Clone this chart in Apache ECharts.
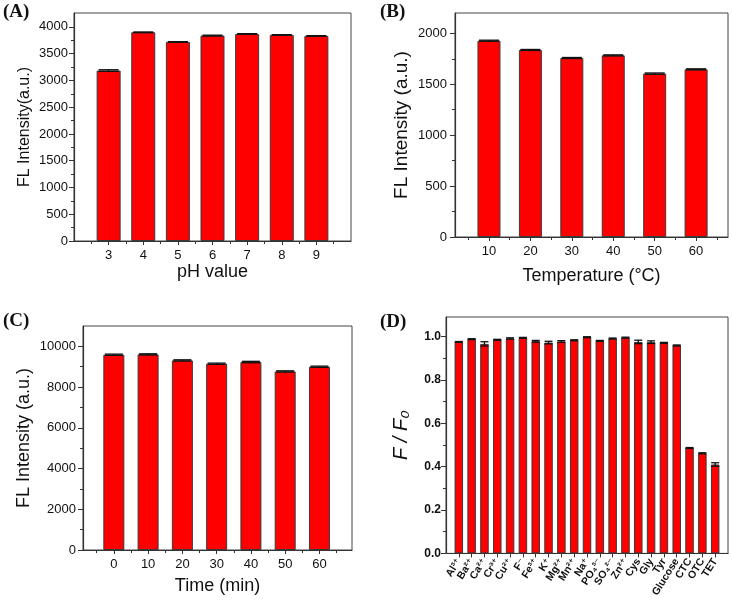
<!DOCTYPE html>
<html>
<head>
<meta charset="utf-8">
<script src="https://cdn.jsdelivr.net/npm/echarts@6/dist/echarts.min.js"></script>
<style>html,body{margin:0;padding:0;background:#fff}#c{width:732px;height:600px}</style>
</head>
<body>
<div id="c"></div>
<script>
// ---- data ----
const phCats = [3, 4, 5, 6, 7, 8, 9];
const phVals = [3185, 3900, 3720, 3838, 3869, 3851, 3832];
const phErr = [15, 5, 5, 8, 5, 5, 5];
const phYTicks = [0, 500, 1000, 1500, 2000, 2500, 3000, 3500, 4000];

const tempCats = [10, 20, 30, 40, 50, 60];
const tempVals = [1928, 1837, 1758, 1784, 1605, 1647];
const tempErr = [5, 5, 5, 5, 6, 5];
const tempYTicks = [0, 500, 1000, 1500, 2000];

const timeCats = [0, 10, 20, 30, 40, 50, 60];
const timeVals = [9590, 9607, 9311, 9148, 9230, 8770, 9000];
const timeErr = [30, 30, 30, 30, 35, 30, 30];
const timeYTicks = [0, 2000, 4000, 6000, 8000, 10000];

const ionLabels = ['Al³⁺', 'Ba²⁺', 'Ca²⁺', 'Cr³⁺', 'Cu²⁺', 'F⁻', 'Fe³⁺', 'K⁺', 'Mg²⁺', 'Mn²⁺', 'Na⁺', 'PO₄³⁻', 'SO₄²⁻', 'Zn²⁺', 'Cys', 'Gly', 'Tyr', 'Glucose', 'CTC', 'OTC', 'TET'];
const ionVals = [0.975, 0.988, 0.966, 0.985, 0.991, 0.994, 0.978, 0.972, 0.977, 0.983, 0.997, 0.980, 0.991, 0.995, 0.975, 0.974, 0.971, 0.959, 0.486, 0.462, 0.410];
const ionErr = [0.002, 0.002, 0.010, 0.002, 0.003, 0.002, 0.004, 0.006, 0.004, 0.002, 0.002, 0.002, 0.002, 0.002, 0.008, 0.006, 0.002, 0.002, 0.002, 0.002, 0.008];
const ionYTicks = [0, 0.2, 0.4, 0.6, 0.8, 1.0];

// ---- helpers ----
const FONT = '"Liberation Sans", Arial, "DejaVu Sans", sans-serif';
const AX = '#333';
function halves(arr) {
  const out = [];
  for (let i = 0; i < arr.length - 1; i++) out.push((arr[i] + arr[i + 1]) / 2);
  return out;
}
function withEnds(arr, step) { return [arr[0] - step / 2].concat(halves(arr), [arr[arr.length - 1] + step / 2]); }

const ionPos = ionLabels.map((_, i) => i + 1);

const panels = [
  { grid: { left: 74, top: 13, right: 381, bottom: 359 }, xmin: 2, xmax: 10, xs: phCats, xminor: withEnds(phCats, 1),
    ymax: 4260, yticks: phYTicks, yminor: halves(phYTicks), vals: phVals, err: phErr, barW: 24, cap: 10,
    yname: 'FL Intensity(a.u.)', ynameFs: 16, ynameGap: 41, xname: 'pH value', xnameFs: 18, xnameGap: 22,
    fmtY: v => String(v), fmtX: v => String(v), fs: 13, bold: false, ylm: 6 },
  { grid: { left: 455, top: 13, right: 4, bottom: 363 }, xmin: 1.8, xmax: 67.7, xs: tempCats, xminor: withEnds(tempCats, 10),
    ymax: 2200, yticks: tempYTicks, yminor: halves(tempYTicks), vals: tempVals, err: tempErr, barW: 23, cap: 10,
    yname: 'FL Intensity (a.u.)', ynameFs: 19, ynameGap: 44, xname: 'Temperature (°C)', xnameFs: 18, xnameGap: 30,
    fmtY: v => String(v), fmtX: v => String(v), fs: 13, bold: false, ylm: 8 },
  { grid: { left: 83, top: 326, right: 380, bottom: 50 }, xmin: -9, xmax: 69.5, xs: timeCats, xminor: withEnds(timeCats, 10),
    ymax: 11000, yticks: timeYTicks, yminor: halves(timeYTicks), vals: timeVals, err: timeErr, barW: 21, cap: 9,
    yname: 'FL Intensity (a.u.)', ynameFs: 18, ynameGap: 50, xname: 'Time (min)', xnameFs: 18, xnameGap: 27,
    fmtY: v => String(v), fmtX: v => String(v), fs: 13, bold: false, ylm: 7 },
  { grid: { left: 446, top: 317, right: 4, bottom: 46 }, xmin: 0, xmax: 22, xs: ionPos, xminor: [],
    ymax: 1.09, yticks: ionYTicks, yminor: halves(ionYTicks), vals: ionVals, err: ionErr, barW: 8.5, cap: 4,
    yname: 'F / F₀', ynameFs: 20, ynameGap: 35, xname: '', xnameFs: 12, xnameGap: 20,
    fmtY: v => v.toFixed(1), fmtX: v => ionLabels[Math.round(v) - 1] || '', fs: 12, bold: true, ylm: 5, rotate: 58, xfs: 10.5 }
];

const grids = [], xAxes = [], yAxes = [], series = [];
panels.forEach((p, gi) => {
  grids.push(Object.assign({ show: true, borderColor: '#444', borderWidth: 1, backgroundColor: 'transparent' }, p.grid));
  const xMainIdx = xAxes.length;
  xAxes.push({
    type: 'value', gridIndex: gi, min: p.xmin, max: p.xmax, position: 'bottom',
    splitLine: { show: false },
    axisLine: { show: true, onZero: false, lineStyle: { color: AX, width: 1.2 } },
    axisTick: { show: true, inside: false, length: 4, customValues: p.xs, lineStyle: { color: AX } },
    axisLabel: { show: true, customValues: p.xs, formatter: p.fmtX, margin: gi === 3 ? 6 : 8,
      rotate: p.rotate || 0, color: '#111', fontFamily: FONT, fontSize: p.xfs || p.fs,
      fontWeight: p.bold ? 'bold' : 'normal' },
    name: p.xname, nameLocation: 'middle', nameGap: p.xnameGap,
    nameTextStyle: { fontFamily: FONT, fontSize: p.xnameFs, color: '#111' }
  });
  if (p.xminor.length) {
    xAxes.push({
      type: 'value', gridIndex: gi, min: p.xmin, max: p.xmax, position: 'bottom',
      splitLine: { show: false }, axisLine: { show: false, onZero: false },
      axisTick: { show: true, length: 3, customValues: p.xminor, lineStyle: { color: AX } },
      axisLabel: { show: false }
    });
  }
  const yMainIdx = yAxes.length;
  const ynameStyle = { fontFamily: FONT, fontSize: p.ynameFs, color: '#111' };
  if (gi === 3) ynameStyle.fontStyle = 'italic';
  yAxes.push({
    type: 'value', gridIndex: gi, min: 0, max: p.ymax, position: 'left',
    splitLine: { show: false },
    axisLine: { show: true, onZero: false, lineStyle: { color: AX, width: 1.2 } },
    axisTick: { show: true, length: 5, customValues: p.yticks, lineStyle: { color: AX } },
    axisLabel: { show: true, customValues: p.yticks, formatter: p.fmtY, margin: p.ylm,
      color: '#111', fontFamily: FONT, fontSize: p.fs, fontWeight: p.bold ? 'bold' : 'normal' },
    name: p.yname, nameLocation: 'middle', nameGap: p.ynameGap, nameTextStyle: ynameStyle
  });
  yAxes.push({
    type: 'value', gridIndex: gi, min: 0, max: p.ymax, position: 'left',
    splitLine: { show: false }, axisLine: { show: false, onZero: false },
    axisTick: { show: true, length: 3, customValues: p.yminor, lineStyle: { color: AX } },
    axisLabel: { show: false }
  });
  series.push({
    type: 'bar', xAxisIndex: xMainIdx, yAxisIndex: yMainIdx, barWidth: p.barW,
    itemStyle: { color: '#ff0000', borderColor: '#3a3a3a', borderWidth: 1 },
    data: p.xs.map((x, i) => [x, p.vals[i]]), animation: false, z: 2
  });
  series.push({
    type: 'custom', xAxisIndex: xMainIdx, yAxisIndex: yMainIdx, z: 5, animation: false,
    data: p.xs.map((x, i) => [x, p.vals[i], p.err[i]]),
    encode: { x: 0, y: 1 },
    renderItem: (params, api) => {
      const x = api.value(0), y = api.value(1), e = api.value(2);
      const t = api.coord([x, y + e]);
      const b = api.coord([x, y - e]);
      const c = p.cap;
      const st = { stroke: '#111', lineWidth: 1.3 };
      return { type: 'group', children: [
        { type: 'line', shape: { x1: t[0], y1: t[1], x2: b[0], y2: b[1] }, style: st },
        { type: 'line', shape: { x1: t[0] - c, y1: t[1], x2: t[0] + c, y2: t[1] }, style: st },
        { type: 'line', shape: { x1: b[0] - c, y1: b[1], x2: b[0] + c, y2: b[1] }, style: st }
      ] };
    }
  });
});

const lab = (txt, l, t) => ({ type: 'text', left: l, top: t, style: { text: txt, fontFamily: '"Liberation Serif", "Times New Roman", serif', fontWeight: 'bold', fontSize: 19, fill: '#111' } });

const chart = echarts.init(document.getElementById('c'), null, { renderer: 'canvas' });
chart.setOption({
  animation: false,
  backgroundColor: '#fff',
  grid: grids, xAxis: xAxes, yAxis: yAxes, series: series,
  graphic: [lab('(A)', 3, 3), lab('(B)', 380, 3), lab('(C)', 3, 312), lab('(D)', 380, 313)]
});
</script>
</body>
</html>
